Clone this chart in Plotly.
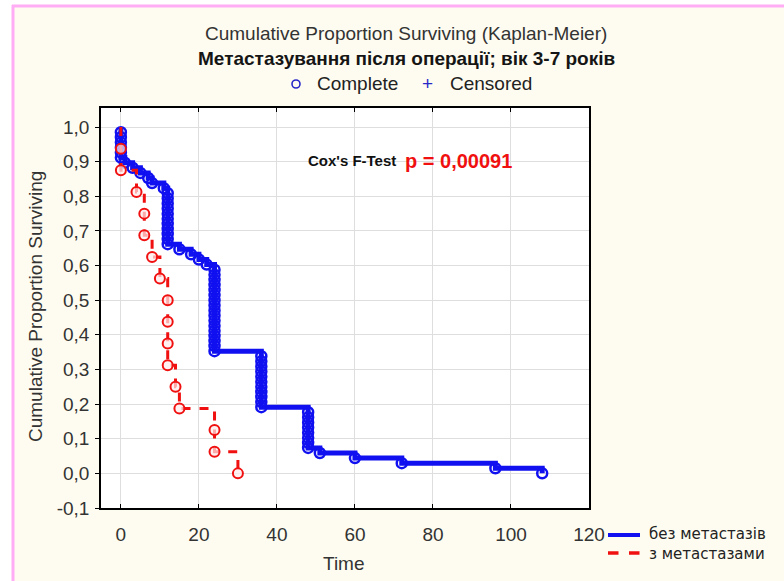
import plotly.graph_objects as go

# Event times (months); every observation is a complete event
no_mets_times = ([0] * 6 + [1, 3, 5, 7, 8, 11] + [12] * 11 + [15, 18, 20, 22]
                 + [24] * 17 + [36] * 11 + [48] * 8 + [51, 60, 72, 96, 108])
mets_times = [0, 0, 4, 6, 6, 8, 10, 12, 12, 12, 12, 14, 15, 24, 24, 30]

series_names = ["без метастазів", "з метастазами"]
x_tick_vals = [0, 20, 40, 60, 80, 100, 120]
y_tick_vals = [-0.1, 0.0, 0.1, 0.2, 0.3, 0.4, 0.5, 0.6, 0.7, 0.8, 0.9, 1.0]
y_tick_labels = ["-0,1", "0,0", "0,1", "0,2", "0,3", "0,4", "0,5",
                 "0,6", "0,7", "0,8", "0,9", "1,0"]
cox_label = "Cox's F-Test"
p_label = "p = 0,00091"

FONT = "Liberation Sans, Arial, sans-serif"
BLUE = "#1010f0"
RED = "#f01010"

W, H = 784, 581
L, R, T, B = 101, 195, 108, 73
PW, PH = W - L - R, H - T - B


def px(x):
    return (x - L) / PW


def py(y):
    return (H - B - y) / PH


def kaplan_meier(times):
    """Cumulative proportion surviving after each event (no censoring)."""
    ts = sorted(times)
    n = len(ts)
    surv = [(n - i - 1) / n for i in range(n)]
    return ts, surv


fig = go.Figure()

styles = [
    dict(color=BLUE, width=5, dash="solid", size=10, mline=2.5,
         fill="rgba(255,255,255,0)"),
    dict(color=RED, width=3, dash="dash", size=10, mline=2,
         fill="rgba(255,235,235,0.7)"),
]
for times, name, st in [(no_mets_times, series_names[0], styles[0]),
                        (mets_times, series_names[1], styles[1])]:
    ts, surv = kaplan_meier(times)
    fig.add_trace(go.Scatter(
        x=[0] + ts, y=[1.0] + surv, mode="lines", line_shape="hv",
        line=dict(color=st["color"], width=st["width"], dash=st["dash"]),
        name=name, showlegend=False, hoverinfo="skip"))
    fig.add_trace(go.Scatter(
        x=ts, y=surv, mode="markers",
        marker=dict(symbol="circle", size=st["size"], color=st["fill"],
                    line=dict(color=st["color"], width=st["mline"])),
        name=name, showlegend=False))

annotations = [
    dict(text="Cumulative Proportion Surviving (Kaplan-Meier)", x=px(406), y=py(33),
         font=dict(size=19, color="#333333")),
    dict(text="<b>Метастазування після операції; вік 3-7 років</b>", x=px(406), y=py(58),
         font=dict(size=19, color="#151515")),
    dict(text="Complete", x=px(315), y=py(84), xanchor="left",
         font=dict(size=19, color="#222222")),
    dict(text="+", x=px(427), y=py(83), font=dict(size=19, color="#2828c8")),
    dict(text="Censored", x=px(448), y=py(84), xanchor="left",
         font=dict(size=19, color="#222222")),
    dict(text="<b>" + cox_label + "</b>", x=px(398), y=py(161), xanchor="right",
         font=dict(size=15, color="#111111")),
    dict(text="<b>" + p_label + "</b>", x=px(403), y=py(161), xanchor="left",
         font=dict(size=20, color=RED)),
    dict(text="Cumulative Proportion Surviving", x=px(35), y=py(307), textangle=-90,
         font=dict(size=19, color="#333333")),
    dict(text="Time", x=px(344), y=py(563), font=dict(size=19, color="#333333")),
    # series key: both names in one block
    dict(text=series_names[0] + "<br>" + series_names[1], x=px(647), y=py(544),
         xanchor="left", align="left",
         font=dict(family="DejaVu Sans, sans-serif", size=15, color="#222222")),
]
for a in annotations:
    a.setdefault("xanchor", "center")
    a.update(xref="paper", yref="paper", yanchor="middle", showarrow=False)

shapes = [
    # white margin outside the pink frame
    dict(type="rect", x0=px(0), x1=px(12), y0=py(0), y1=py(H), fillcolor="white",
         line=dict(width=0)),
    dict(type="rect", x0=px(0), x1=px(W), y0=py(0), y1=py(5), fillcolor="white",
         line=dict(width=0)),
    dict(type="line", x0=px(13), x1=px(13), y0=py(5), y1=py(H),
         line=dict(color="#ffaef6", width=3)),
    dict(type="line", x0=px(12), x1=px(W), y0=py(6), y1=py(6),
         line=dict(color="#ffaef6", width=3)),
    # "Complete" marker in the symbol key
    dict(type="circle", x0=px(292), x1=px(300), y0=py(80), y1=py(88),
         line=dict(color="#2828c8", width=1.6)),
    # series key samples
    dict(type="line", x0=px(608), x1=px(640), y0=py(535), y1=py(535),
         line=dict(color=BLUE, width=4)),
    dict(type="line", x0=px(608), x1=px(640), y0=py(553), y1=py(553),
         line=dict(color=RED, width=3.5, dash="dash")),
]
for s in shapes:
    s.update(xref="paper", yref="paper")

fig.update_layout(
    width=W, height=H,
    margin=dict(l=L, r=R, t=T, b=B),
    paper_bgcolor="#fefcf0", plot_bgcolor="white",
    font=dict(family=FONT, size=19, color="#333333"),
    showlegend=False,
    annotations=annotations, shapes=shapes,
    xaxis=dict(range=[-5.1, 120], tickvals=x_tick_vals, ticks="inside", ticklen=4,
               tickcolor="black", showline=True, linecolor="black", linewidth=1.5,
               mirror="ticks", showgrid=True, gridcolor="#dedede", gridwidth=1,
               zeroline=False, ticklabelstandoff=8,
               tickfont=dict(size=19, color="#333333")),
    yaxis=dict(range=[-0.1, 1.055], tickvals=y_tick_vals, ticktext=y_tick_labels,
               ticks="outside", ticklen=4, tickcolor="black",
               showline=True, linecolor="black", linewidth=1.5, mirror=True,
               showgrid=True, gridcolor="#dedede", gridwidth=1, zeroline=False,
               ticklabelstandoff=2, tickfont=dict(size=19, color="#333333")),
)

fig.write_html("out.html")
